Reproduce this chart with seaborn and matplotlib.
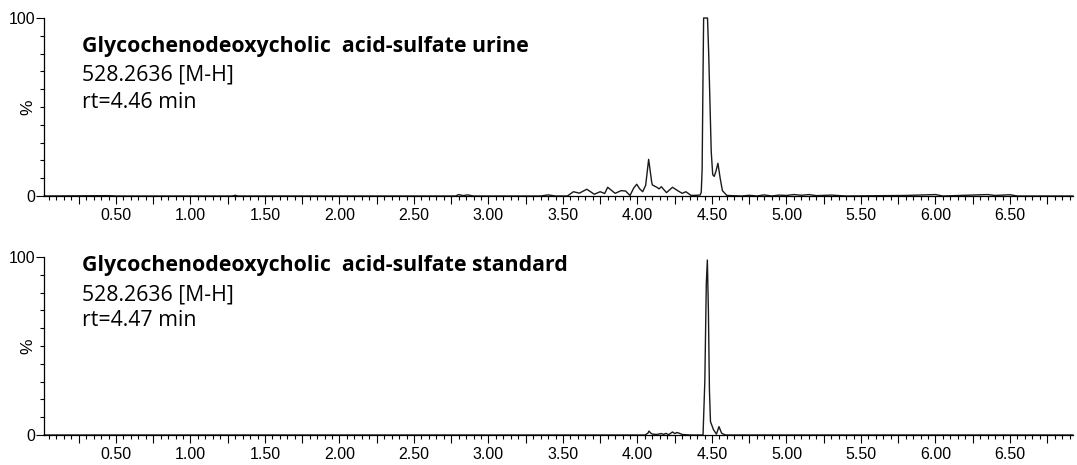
import numpy as np
import pandas as pd
import matplotlib
matplotlib.use("Agg")
import matplotlib.pyplot as plt
import seaborn as sns
from matplotlib.ticker import MultipleLocator, FuncFormatter

# ---- data (time in min, intensity in %) ----
urine_time = [0.017, 0.45, 0.50, 1.28, 1.30, 1.32, 2.00, 2.78, 2.80, 2.83, 2.86, 2.90,
              3.35, 3.40, 3.45, 3.53, 3.57, 3.61, 3.66, 3.71, 3.75, 3.78, 3.80, 3.85,
              3.89, 3.92, 3.95, 3.975, 3.995, 4.015, 4.035, 4.055, 4.066, 4.075, 4.084,
              4.095, 4.10, 4.13, 4.145,
              4.16, 4.195, 4.235, 4.27, 4.30, 4.325, 4.36, 4.42, 4.428, 4.434, 4.439,
              4.444, 4.470, 4.478, 4.486, 4.495, 4.505, 4.515, 4.527, 4.540, 4.555,
              4.570, 4.600, 4.70, 4.75, 4.80, 4.85, 4.90, 4.95, 5.00, 5.05, 5.10, 5.15,
              5.20, 5.30, 5.40, 5.80, 6.00, 6.05, 6.35, 6.40, 6.50, 6.55, 6.923]
urine_pct = [0.0, 0.2, 0.0, 0.0, 0.4, 0.0, 0.0, 0.0, 0.8, 0.2, 0.6, 0.0,
             0.0, 0.6, 0.0, 0.0, 2.4, 1.6, 3.8, 1.0, 2.4, 1.4, 4.9, 1.5,
             3.0, 2.8, 0.3, 4.5, 6.6, 4.0, 2.4, 6.0, 14.0, 20.6, 15.0,
             8.0, 6.2, 4.9, 4.0,
             5.2, 1.9, 4.9, 3.0, 1.5, 2.4, 0.3, 0.5, 2.0, 15.0, 60.0,
             100.0, 100.0, 80.0, 54.0, 25.0, 12.0, 11.0, 14.0, 18.4, 10.0,
             3.0, 0.3, 0.0, 0.4, 0.0, 0.6, 0.0, 0.5, 0.3, 0.8, 0.4, 0.8,
             0.2, 0.5, 0.0, 0.3, 0.8, 0.0, 0.8, 0.3, 0.7, 0.0, 0.0]

std_time = [0.017, 4.05, 4.07, 4.077, 4.09, 4.10, 4.13, 4.16, 4.175, 4.19, 4.21,
            4.235, 4.25, 4.265, 4.28, 4.30, 4.35, 4.44, 4.452, 4.462, 4.469, 4.476,
            4.483, 4.49, 4.51, 4.53, 4.547, 4.565, 4.59, 6.923]
std_pct = [0.0, 0.0, 1.0, 2.2, 1.0, 0.5, 0.3, 0.8, 0.3, 0.9, 0.2,
           1.7, 0.8, 1.4, 1.0, 0.3, 0.0, 0.0, 30.0, 85.0, 98.3, 70.0,
           25.0, 7.5, 3.0, 0.5, 4.7, 1.0, 0.0, 0.0]

titles = ["Glycochenodeoxycholic  acid-sulfate urine",
          "Glycochenodeoxycholic  acid-sulfate standard"]
mass_labels = ["528.2636 [M-H]", "528.2636 [M-H]"]
rt_labels = ["rt=4.46 min", "rt=4.47 min"]
y_ticks = [0, 100]
x_range = (0.017, 6.923)

sns.set_style("ticks")
plt.rcParams['font.family'] = ['Liberation Sans', 'DejaVu Sans']

W, H = 1077, 465
fig = plt.figure(figsize=(W / 100, H / 100), dpi=100)
fig.patch.set_facecolor("white")


def rect(y0px, y100px):
    return [44 / W, 1 - y0px / H, (1073 - 44) / W, (y0px - y100px) / H]


panels = [(rect(196, 18), urine_time, urine_pct, (52, 81, 107.5)),
          (rect(435, 257), std_time, std_pct, (271, 300, 326))]

fmt = FuncFormatter(lambda v, p: f"{v:.2f}" if abs(v / 0.5 - round(v / 0.5)) < 1e-6 else "")
txt_family = ["Open Sans", "DejaVu Sans"]

for i, (r, tt, pp, ys) in enumerate(panels):
    ax = fig.add_axes(r)
    df = pd.DataFrame({"time": tt, "pct": pp})
    sns.lineplot(data=df, x="time", y="pct", ax=ax, color="#1a1a1a",
                 linewidth=1.0, estimator=None, sort=False)
    for ln in ax.lines:
        ln.set_clip_on(False)
    ax.set_xlim(*x_range)
    ax.set_ylim(0, 100)
    sns.despine(ax=ax)
    for s in ("left", "bottom"):
        ax.spines[s].set_color("black")
        ax.spines[s].set_linewidth(0.9)
    ax.set_xlabel("")
    ax.set_ylabel("%", fontsize=12.5, color="black")
    ax.yaxis.set_label_coords(-9 / 1029, 0.5)
    ax.set_yticks(y_ticks)
    ax.set_yticklabels([str(v) for v in y_ticks])
    ax.yaxis.set_minor_locator(MultipleLocator(10))
    ax.xaxis.set_major_locator(MultipleLocator(0.25))
    ax.xaxis.set_major_formatter(fmt)
    ax.xaxis.set_minor_locator(MultipleLocator(0.05))
    ax.tick_params(axis="y", which="major", length=5.8, width=0.8, pad=0.5,
                   labelsize=11.5, colors="black")
    ax.tick_params(axis="y", which="minor", length=2.6, width=0.8, colors="black")
    ax.tick_params(axis="x", which="major", length=5.4, width=0.8, pad=3,
                   labelsize=11.5, colors="black")
    ax.tick_params(axis="x", which="minor", length=2.9, width=0.8, colors="black")
    ax.grid(False)
    ax.set_facecolor("white")

    fig.text(82 / W, 1 - ys[0] / H, titles[i], family=txt_family,
             weight="bold", fontsize=15.3, va="baseline", ha="left", color="black")
    fig.text(82 / W, 1 - ys[1] / H, mass_labels[i], family=txt_family,
             fontsize=15.3, va="baseline", ha="left", color="black")
    fig.text(82 / W, 1 - ys[2] / H, rt_labels[i], family=txt_family,
             fontsize=15.3, va="baseline", ha="left", color="black")

fig.savefig("out.png", dpi=100, facecolor="white")
